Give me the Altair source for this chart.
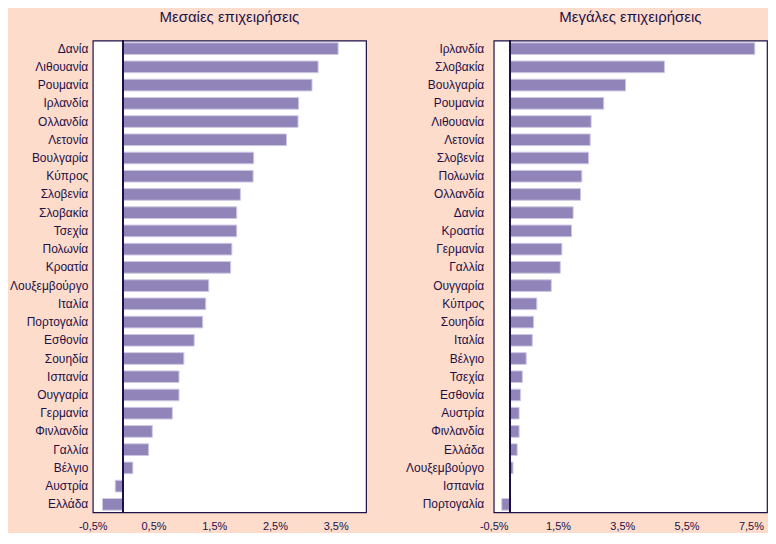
import altair as alt
import pandas as pd

# Left panel: medium enterprises (%)
mid_countries = ["Δανία", "Λιθουανία", "Ρουμανία", "Ιρλανδία", "Ολλανδία", "Λετονία",
                 "Βουλγαρία", "Κύπρος", "Σλοβενία", "Σλοβακία", "Τσεχία", "Πολωνία",
                 "Κροατία", "Λουξεμβούργο", "Ιταλία", "Πορτογαλία", "Εσθονία", "Σουηδία",
                 "Ισπανία", "Ουγγαρία", "Γερμανία", "Φινλανδία", "Γαλλία", "Βέλγιο",
                 "Αυστρία", "Ελλάδα"]
mid_values = [3.54, 3.21, 3.11, 2.89, 2.88, 2.69, 2.15, 2.14, 1.93, 1.87, 1.87, 1.79,
              1.77, 1.41, 1.36, 1.31, 1.17, 1.00, 0.92, 0.92, 0.81, 0.48, 0.42, 0.16,
              -0.13, -0.34]

# Right panel: large enterprises (%)
big_countries = ["Ιρλανδία", "Σλοβακία", "Βουλγαρία", "Ρουμανία", "Λιθουανία", "Λετονία",
                 "Σλοβενία", "Πολωνία", "Ολλανδία", "Δανία", "Κροατία", "Γερμανία",
                 "Γαλλία", "Ουγγαρία", "Κύπρος", "Σουηδία", "Ιταλία", "Βέλγιο", "Τσεχία",
                 "Εσθονία", "Αυστρία", "Φινλανδία", "Ελλάδα", "Λουξεμβούργο", "Ισπανία",
                 "Πορτογαλία"]
big_values = [7.62, 4.81, 3.60, 2.92, 2.53, 2.50, 2.45, 2.24, 2.20, 1.97, 1.92, 1.62,
              1.57, 1.29, 0.84, 0.74, 0.70, 0.51, 0.39, 0.33, 0.29, 0.29, 0.23, 0.10,
              0.0, -0.25]

mid_ticks = [-0.5, 0.5, 1.5, 2.5, 3.5]
big_ticks = [-0.5, 1.5, 3.5, 5.5, 7.5]

BAR = "#9084B8"
BAR_EDGE = "#CFC8E4"
INK = "#1E1048"
BG = "#FDDCCB"
FONT = "Liberation Sans"

label_expr = "replace(replace(format(datum.value, '.1f'), '.', ','), '\u2212', '-') + '%'"


def panel(countries, values, domain, ticks, title, label_pad):
    df = pd.DataFrame({"country": countries, "value": values})
    x = alt.X("value:Q",
              scale=alt.Scale(domain=domain, nice=False, zero=False),
              axis=alt.Axis(values=ticks, labelExpr=label_expr, title=None,
                            grid=False, ticks=False, domain=False, labelFlush=False,
                            labelPadding=8, labelFontSize=11, labelColor=INK,
                            labelFont=FONT))
    y = alt.Y("country:N", sort=countries,
              scale=alt.Scale(paddingInner=0.36, paddingOuter=0.12),
              axis=alt.Axis(title=None, ticks=False, domain=False,
                            labelPadding=label_pad, labelFontSize=12,
                            labelColor=INK, labelFont=FONT))
    bars = alt.Chart(df).mark_bar(color=BAR, stroke=BAR_EDGE, strokeWidth=1).encode(x=x, y=y)
    zero = alt.Chart(df).mark_rule(color=INK, strokeWidth=1.5).encode(x=alt.datum(0))
    return alt.layer(bars, zero).properties(
        width=274, height=473,
        title=alt.TitleParams(title, fontSize=15, font=FONT, color=INK,
                              fontWeight="normal", offset=15, anchor="middle"))


left = panel(mid_countries, mid_values, [-0.5, 4.0], mid_ticks, "Μεσαίες επιχειρήσεις", 5)
right = panel(big_countries, big_values, [-0.5, 8.0], big_ticks, "Μεγάλες επιχειρήσεις", 10)

chart = alt.hconcat(left, right, spacing=37).properties(
    background=BG, padding=0
).configure_view(stroke=INK, strokeWidth=1.2, fill="white")

chart.save("out.html", embed_options={"renderer": "svg", "actions": False})
